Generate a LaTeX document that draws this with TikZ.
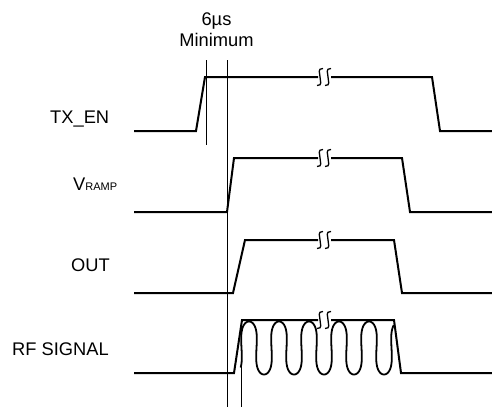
\documentclass[tikz,border=0pt]{standalone}
\usepackage{fontspec}
\setmainfont{Liberation Sans}
\usepackage{tikz}
\usetikzlibrary{calc}
\tikzstyle{wave}=[line width=2pt,line join=miter]
\tikzstyle{marker}=[line width=0.9pt]
\tikzstyle{label}=[inner sep=0,anchor=base west,font=\fontsize{18.3}{21}\selectfont]
\tikzstyle{brk}=[line width=1.3pt]

\begin{document}
\begin{tikzpicture}[x=1pt, y=-1pt]
\useasboundingbox (0,0) rectangle (492,407);

% signal names
\node [label] (txen) at (50,123) {TX\_EN};
\node [label] (vramp) at (73,190) {V\raisebox{-0.7pt}{\fontsize{11}{12}\selectfont RAMP}};
\node [label] (out) at (71,271.5) {OUT};
\node [label] (rf) at (12,355) {RF SIGNAL};

% delay annotation
\node [label,anchor=base] (delay) at (216.5,25) {6µs};
\node [label,anchor=base] (mintxt) at (216.5,46.7) {Minimum};

% timing markers
\coordinate (m1-top) at (206,60);
\coordinate (m1-bot) at (206,145);
\coordinate (m2-top) at (227,60);
\coordinate (m2-bot) at (227,407);
\coordinate (m3-top) at (241,320);
\coordinate (m3-bot) at (241,407);
\foreach \i in {1,2,3}
  \draw [marker] (m\i-top) -- (m\i-bot);

% waveforms, left part
\draw [wave] (134,131) -- (196,131) -- (205,77) -- (318,77);
\draw [wave] (134,212) -- (227,212) -- (234,158) -- (318,158);
\draw [wave] (134,293) -- (233,293) -- (245,240) -- (318,240);
\draw [wave] (134,373) -- (234,373) -- (242,320) -- (318,320);

% waveforms, right part
\draw [wave] (331,77) -- (432,77) -- (440,131) -- (492,131);
\draw [wave] (331,158) -- (402,158) -- (410,212) -- (492,212);
\draw [wave] (331,240) -- (394,240) -- (402,293) -- (492,293);
\draw [wave] (331,320) -- (394,320) -- (401,373) -- (492,373);

% carrier
\draw [line width=1.8pt] plot [variable=\t, domain=-2.4:30.9, samples=400, smooth]
  ({249+4.775*(\t+0.65*sin(2*\t r))},{348-26.5*cos(\t r)});

% break marks
\foreach \y in {77,158,240,320}
  \foreach \x in {320,328}
    \draw [brk] ($(\x,\y)+(3,-8.5)$) .. controls ++(-6,0) and ++(0,-4) .. ($(\x,\y)$)
      .. controls ++(0,4) and ++(6,0) .. ($(\x,\y)+(-3,8.5)$);

\end{tikzpicture}
\end{document}
